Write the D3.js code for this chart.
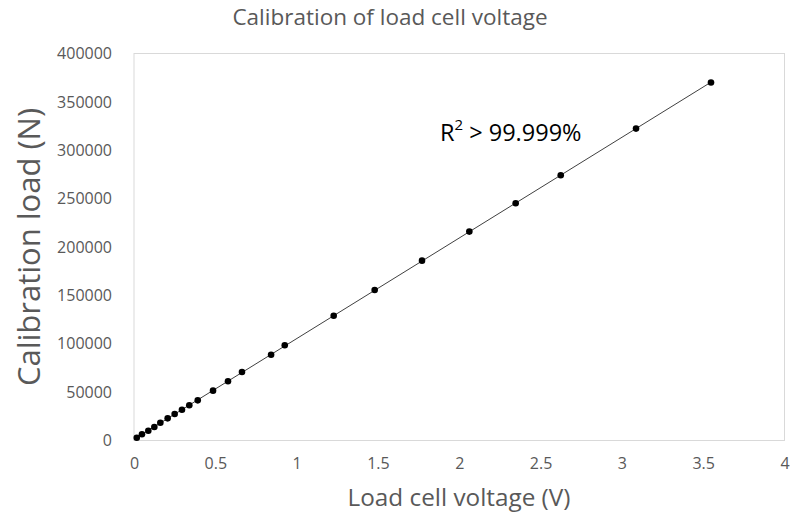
<!DOCTYPE html>
<html>
<head>
<meta charset="utf-8">
<script src="https://cdn.jsdelivr.net/npm/d3@7"></script>
<style>
  body { margin: 0; background: #fff; }
  svg { display: block; font-family: "Open Sans", sans-serif; }
</style>
</head>
<body>
<svg id="chart" width="790" height="518"></svg>
<script>
// Data
const voltage = [0.017, 0.049, 0.088, 0.125, 0.162, 0.207, 0.250, 0.295, 0.340, 0.392,
                 0.486, 0.578, 0.664, 0.843, 0.927, 1.228, 1.480, 1.771, 2.062, 2.347,
                 2.624, 3.087, 3.548];
const load = [2900, 6400, 10100, 14000, 18400, 22900, 27400, 31800, 36400, 41500,
              51500, 61200, 70800, 88700, 98400, 129000, 155600, 185900, 215900, 245200,
              274200, 322400, 370000];
const xTicks = [0, 0.5, 1, 1.5, 2, 2.5, 3, 3.5, 4];
const yTicks = [0, 50000, 100000, 150000, 200000, 250000, 300000, 350000, 400000];
const titleText = "Calibration of load cell voltage";
const xTitle = "Load cell voltage (V)";
const yTitle = "Calibration load (N)";

const svg = d3.select("#chart");
const FONT = "'Open Sans', sans-serif";
const m = { left: 134, right: 784.5, top: 53.5, bottom: 440.5 };

const x = d3.scaleLinear().domain([0, 4]).range([m.left, m.right]);
const y = d3.scaleLinear().domain([0, 400000]).range([m.bottom, m.top]);

// plot frame
svg.append("rect")
  .attr("x", m.left).attr("y", m.top)
  .attr("width", m.right - m.left).attr("height", m.bottom - m.top)
  .attr("fill", "none").attr("stroke", "#d9d9d9").attr("stroke-width", 1);

// axes (labels only)
const xAxis = svg.append("g").attr("transform", `translate(0,${m.bottom})`)
  .call(d3.axisBottom(x).tickValues(xTicks).tickSize(0).tickPadding(17).tickFormat(d3.format("")));
xAxis.select(".domain").remove();
xAxis.selectAll("text").attr("fill", "#595959").style("font-size", "16px").style("font-family", FONT);

const yAxis = svg.append("g").attr("transform", `translate(${m.left},0)`)
  .call(d3.axisLeft(y).tickValues(yTicks).tickSize(0).tickPadding(22).tickFormat(d3.format("d")));
yAxis.select(".domain").remove();
yAxis.selectAll("text").attr("fill", "#595959").style("font-size", "16px").style("font-family", FONT);

// linear trendline (least-squares fit over the data range)
const n = voltage.length;
const mx = d3.mean(voltage), my = d3.mean(load);
let sxy = 0, sxx = 0;
for (let i = 0; i < n; i++) { sxy += (voltage[i] - mx) * (load[i] - my); sxx += (voltage[i] - mx) ** 2; }
const slope = sxy / sxx, intercept = my - slope * mx;
const x0 = d3.min(voltage), x1 = d3.max(voltage);
svg.append("line")
  .attr("x1", x(x0)).attr("y1", y(intercept + slope * x0))
  .attr("x2", x(x1)).attr("y2", y(intercept + slope * x1))
  .attr("stroke", "#404040").attr("stroke-width", 1);

// points
svg.append("g").selectAll("circle")
  .data(voltage.map((v, i) => [v, load[i]]))
  .join("circle")
  .attr("cx", d => x(d[0])).attr("cy", d => y(d[1]))
  .attr("r", 3.3).attr("fill", "#000");

// title
svg.append("text").attr("x", 390).attr("y", 25).attr("text-anchor", "middle")
  .attr("fill", "#595959").style("font-size", "22.5px").text(titleText);

// x title
svg.append("text").attr("x", 459).attr("y", 506).attr("text-anchor", "middle")
  .attr("fill", "#595959").style("font-size", "24.3px").text(xTitle);

// y title
svg.append("text").attr("transform", "translate(40,247) rotate(-90)").attr("text-anchor", "middle")
  .attr("fill", "#595959").style("font-size", "31px").text(yTitle);

// R² annotation
const ann = svg.append("text").attr("x", 440).attr("y", 141).attr("fill", "#000").style("font-size", "23.5px");
ann.append("tspan").text("R");
ann.append("tspan").attr("dy", -11).style("font-size", "15px").text("2");
ann.append("tspan").attr("dy", 11).text(" > 99.999%");
</script>
</body>
</html>
